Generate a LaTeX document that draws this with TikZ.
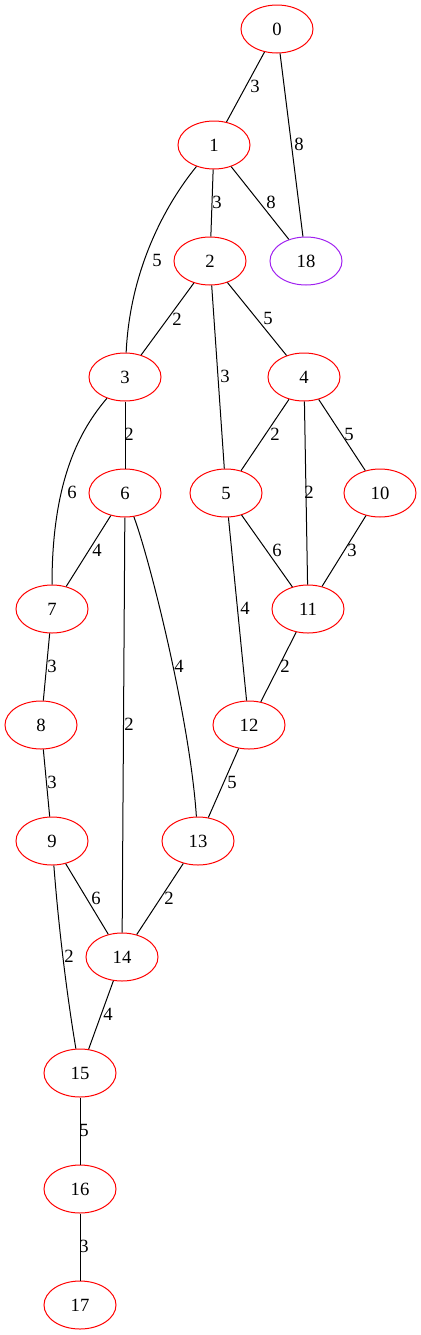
\documentclass[tikz,border=0pt]{standalone}
\usepackage{fontspec}
\setmainfont{Liberation Serif}
\usetikzlibrary{shapes.geometric}
\definecolor{gvpurple}{RGB}{160,32,240}
\begin{document}
\begin{tikzpicture}[x=0.75pt,y=-0.75pt,
  vtx/.style={ellipse,draw=red,line width=0.75pt,minimum width=54pt,minimum height=36pt,inner sep=0pt,font=\fontsize{14}{16}\selectfont},
  wlab/.style={inner sep=0pt,font=\fontsize{14}{16}\selectfont},
  conn/.style={line width=0.75pt,black}]
\useasboundingbox (0,0) rectangle (421,1335);
\node[vtx] (n0) at (277,29) {0};
\node[vtx] (n1) at (214,145) {1};
\node[vtx] (n2) at (210,261) {2};
\node[vtx,draw=gvpurple] (n18) at (306,261) {18};
\node[vtx] (n3) at (125,377) {3};
\node[vtx] (n4) at (304,377) {4};
\node[vtx] (n6) at (125,493) {6};
\node[vtx] (n5) at (226,493) {5};
\node[vtx] (n10) at (380,493) {10};
\node[vtx] (n7) at (52,609) {7};
\node[vtx] (n11) at (308,609) {11};
\node[vtx] (n8) at (41,725) {8};
\node[vtx] (n12) at (249,725) {12};
\node[vtx] (n9) at (52,841) {9};
\node[vtx] (n13) at (198,841) {13};
\node[vtx] (n14) at (122,957) {14};
\node[vtx] (n15) at (80,1073) {15};
\node[vtx] (n16) at (80,1189) {16};
\node[vtx] (n17) at (80,1305) {17};
% connectors
\draw[conn] (n0) -- (n1);
\draw[conn] (n0) -- (n18);
\draw[conn] (n1) -- (n2);
\draw[conn] (n1) -- (n18);
\draw[conn] (n1) .. controls (165,205) and (130,270) .. (n3);
\draw[conn] (n2) -- (n3);
\draw[conn] (n2) -- (n4);
\draw[conn] (n2) -- (n5);
\draw[conn] (n3) -- (n6);
\draw[conn] (n3) .. controls (80,430) and (52,480) .. (n7);
\draw[conn] (n4) -- (n5);
\draw[conn] (n4) -- (n11);
\draw[conn] (n4) -- (n10);
\draw[conn] (n6) -- (n7);
\draw[conn] (n6) -- (n14);
\draw[conn] (n6) .. controls (150,560) and (190,720) .. (n13);
\draw[conn] (n5) -- (n11);
\draw[conn] (n5) -- (n12);
\draw[conn] (n10) -- (n11);
\draw[conn] (n11) -- (n12);
\draw[conn] (n7) -- (n8);
\draw[conn] (n8) -- (n9);
\draw[conn] (n12) -- (n13);
\draw[conn] (n9) -- (n14);
\draw[conn] (n13) -- (n14);
\draw[conn] (n9) .. controls (58,920) and (66,990) .. (n15);
\draw[conn] (n14) -- (n15);
\draw[conn] (n15) -- (n16);
\draw[conn] (n16) -- (n17);
% weights
\node[wlab] (w01) at (255,86) {3};
\node[wlab] (w018) at (299,144) {8};
\node[wlab] (w12) at (217,202) {3};
\node[wlab] (w118) at (271,202) {8};
\node[wlab] (w13) at (157,260) {5};
\node[wlab] (w23) at (177,319) {2};
\node[wlab] (w24) at (268,318) {5};
\node[wlab] (w25) at (225,376) {3};
\node[wlab] (w36) at (129,434) {2};
\node[wlab] (w45) at (275,434) {2};
\node[wlab] (w410) at (349,434) {5};
\node[wlab] (w411) at (309,492) {2};
\node[wlab] (w37) at (72,492) {6};
\node[wlab] (w67) at (97,550) {4};
\node[wlab] (w511) at (277,550) {6};
\node[wlab] (w1011) at (352,550) {3};
\node[wlab] (w512) at (245,608) {4};
\node[wlab] (w78) at (52,666) {3};
\node[wlab] (w613) at (179,666) {4};
\node[wlab] (w1112) at (285,666) {2};
\node[wlab] (w614) at (129,724) {2};
\node[wlab] (w89) at (52,782) {3};
\node[wlab] (w1213) at (232,782) {5};
\node[wlab] (w914) at (96,898) {6};
\node[wlab] (w1314) at (169,898) {2};
\node[wlab] (w915) at (69,956) {2};
\node[wlab] (w1415) at (108,1014) {4};
\node[wlab] (w1516) at (84,1130) {5};
\node[wlab] (w1617) at (84,1246) {3};
\end{tikzpicture}
\end{document}
